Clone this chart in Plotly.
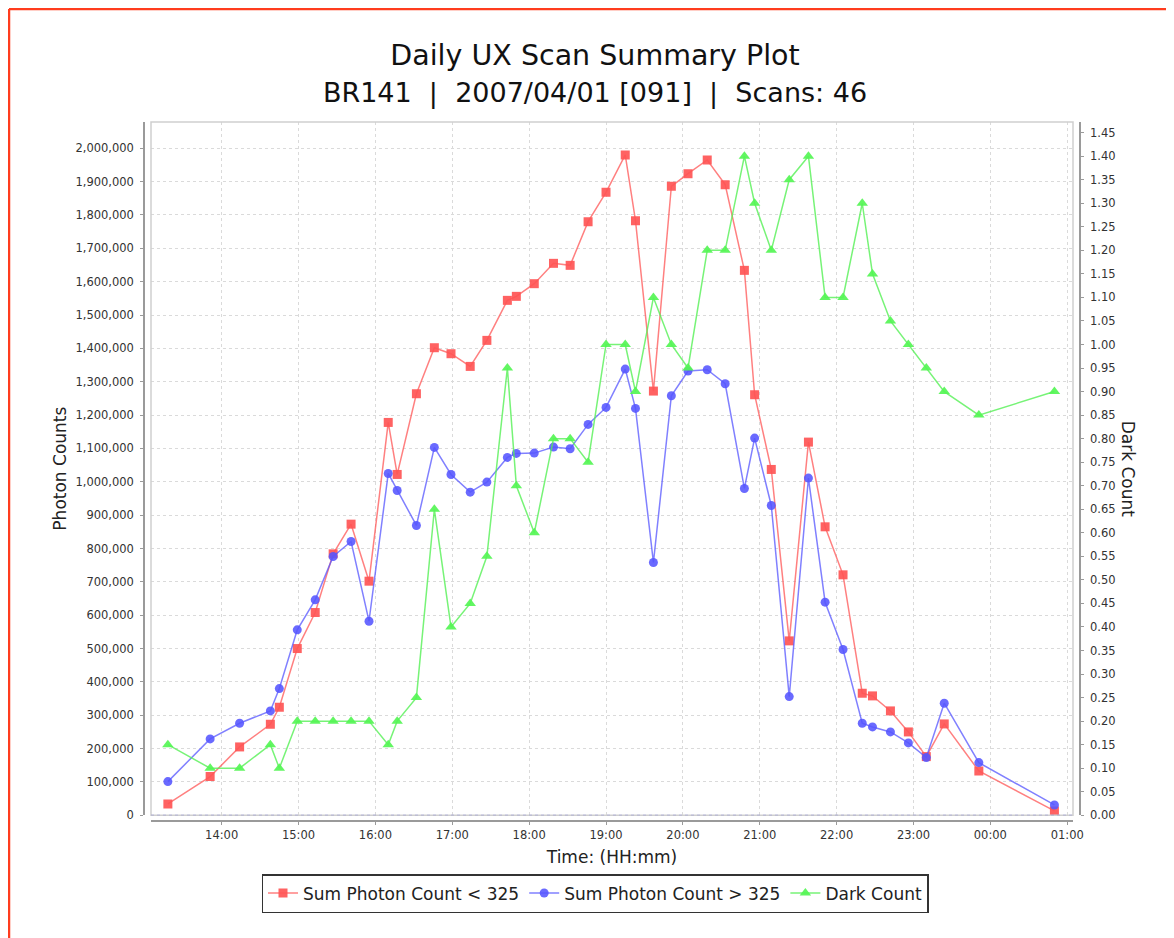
import plotly.graph_objects as go

# ---------------- data ----------------
scan_times = [
    "2007-04-01 13:18", "2007-04-01 13:51", "2007-04-01 14:14", "2007-04-01 14:38",
    "2007-04-01 14:45", "2007-04-01 14:59", "2007-04-01 15:13", "2007-04-01 15:27",
    "2007-04-01 15:41", "2007-04-01 15:55", "2007-04-01 16:10", "2007-04-01 16:17",
    "2007-04-01 16:32", "2007-04-01 16:46", "2007-04-01 16:59", "2007-04-01 17:14",
    "2007-04-01 17:27", "2007-04-01 17:43", "2007-04-01 17:50", "2007-04-01 18:04",
    "2007-04-01 18:19", "2007-04-01 18:32", "2007-04-01 18:46", "2007-04-01 19:00",
    "2007-04-01 19:15", "2007-04-01 19:23", "2007-04-01 19:37", "2007-04-01 19:51",
    "2007-04-01 20:04", "2007-04-01 20:19", "2007-04-01 20:33", "2007-04-01 20:48",
    "2007-04-01 20:56", "2007-04-01 21:09", "2007-04-01 21:23", "2007-04-01 21:38",
    "2007-04-01 21:51", "2007-04-01 22:05", "2007-04-01 22:20", "2007-04-01 22:28",
    "2007-04-01 22:42", "2007-04-01 22:56", "2007-04-01 23:10", "2007-04-01 23:24",
    "2007-04-01 23:51", "2007-04-02 00:50",
]

sum_photon_lt_325 = [
    34000, 116000, 205000, 273000, 324000, 500000, 608000, 784000, 873000, 702000,
    1178000, 1022000, 1264000, 1402000, 1384000, 1346000, 1424000, 1544000, 1556000, 1594000,
    1655000, 1649000, 1780000, 1868000, 1980000, 1783000, 1272000, 1886000, 1924000, 1965000,
    1891000, 1634000, 1261000, 1037000, 523000, 1119000, 865000, 721000, 366000, 358000,
    313000, 250000, 176000, 274000, 133000, 13000,
]

sum_photon_gt_325 = [
    101000, 229000, 276000, 313000, 380000, 556000, 646000, 776000, 821000, 582000,
    1025000, 974000, 869000, 1103000, 1022000, 969000, 999000, 1073000, 1085000, 1086000,
    1104000, 1099000, 1172000, 1223000, 1338000, 1220000, 758000, 1258000, 1332000, 1336000,
    1294000, 980000, 1131000, 929000, 356000, 1011000, 639000, 497000, 276000, 265000,
    250000, 217000, 173000, 336000, 158000, 31000,
]

dark_count = [
    0.15, 0.10, 0.10, 0.15, 0.10, 0.20, 0.20, 0.20, 0.20, 0.20,
    0.15, 0.20, 0.25, 0.65, 0.40, 0.45, 0.55, 0.95, 0.70, 0.60,
    0.80, 0.80, 0.75, 1.00, 1.00, 0.90, 1.10, 1.00, 0.95, 1.20,
    1.20, 1.40, 1.30, 1.20, 1.35, 1.40, 1.10, 1.10, 1.30, 1.15,
    1.05, 1.00, 0.95, 0.90, 0.85, 0.90,
]

series_names = ["Sum Photon Count < 325", "Sum Photon Count > 325", "Dark Count"]
title_line1 = "Daily UX Scan Summary Plot"
title_line2 = "BR141\u00a0\u00a0|\u00a0\u00a02007/04/01 [091]\u00a0\u00a0|\u00a0\u00a0Scans: 46"

# ---------------- figure ----------------
FONT = "DejaVu Sans"
OFF = 8                      # page body margin of the browser
W, H = 1174 - OFF, 938 - OFF
ML = 144 - OFF               # left axis line (page x=144)
MR = W - (1080 - OFF)        # right axis line (page x=1080)
MT = 122 - OFF               # plot top (page y=122)
MB = H - (821 - OFF)         # x axis line (page y=821)
PW, PH = W - ML - MR, H - MT - MB


def px_x(p):
    """page pixel x -> paper fraction"""
    return (p - OFF - ML) / PW


def px_y(p):
    """page pixel y -> paper fraction"""
    return (H - MB - (p - OFF)) / PH


fig = go.Figure()
fig.add_trace(go.Scatter(
    x=scan_times, y=sum_photon_lt_325, name=series_names[0], mode="lines+markers",
    line=dict(color="rgba(255,85,85,0.75)", width=1.5),
    marker=dict(symbol="square", size=9, color="rgba(255,85,85,0.92)"),
    yaxis="y",
))
fig.add_trace(go.Scatter(
    x=scan_times, y=sum_photon_gt_325, name=series_names[1], mode="lines+markers",
    line=dict(color="rgba(85,85,255,0.75)", width=1.5),
    marker=dict(symbol="circle", size=9, color="rgba(85,85,255,0.88)"),
    yaxis="y",
))
fig.add_trace(go.Scatter(
    x=scan_times, y=dark_count, name=series_names[2], mode="lines+markers",
    line=dict(color="rgba(85,240,85,0.8)", width=1.5),
    marker=dict(symbol="triangle-up", size=10, color="rgba(85,245,85,0.92)"),
    yaxis="y2",
))

tickfont = dict(family=FONT, size=11.5, color="#333333")
axis_line = "#9a9a9a"
grid = "#dadada"

fig.update_layout(
    width=W, height=H,
    margin=dict(l=ML, r=MR, t=MT, b=MB, pad=0),
    paper_bgcolor="white", plot_bgcolor="white",
    font=dict(family=FONT, color="#222222"),
    title=dict(
        text=title_line1 + "<br><span style='font-size:27px'>" + title_line2 + "</span>",
        x=(595 - OFF) / W, xanchor="center", xref="container",
        y=1 - 57 / H, yanchor="top", yref="container",
        font=dict(family=FONT, size=28.5, color="#111111"),
    ),
    xaxis=dict(
        type="date",
        range=["2007-04-01 13:04:50", "2007-04-02 01:04:30"],
        domain=[px_x(151), px_x(1073)],
        anchor="free", position=0,
        tick0="2007-04-01 00:00", dtick=3600000, tickformat="%H:%M",
        showline=True, linecolor=axis_line, linewidth=1.5,
        ticks="outside", ticklen=3, tickcolor=axis_line, tickwidth=1,
        showgrid=True, gridcolor=grid, griddash="3px,3px", gridwidth=1,
        zeroline=False, tickfont=tickfont,
        title=dict(text="Time: (HH:mm)", font=dict(family=FONT, size=17, color="#222222"), standoff=10),
    ),
    yaxis=dict(
        range=[0, 2078800],
        domain=[px_y(815.3), 1],
        anchor="free", position=0,
        dtick=100000, tickformat=",d",
        showline=True, linecolor=axis_line, linewidth=1.5,
        ticks="outside", ticklen=3, tickcolor=axis_line,
        showgrid=True, gridcolor=grid, griddash="3px,3px", gridwidth=1,
        zeroline=False, tickfont=tickfont, ticklabelstandoff=4,
        title=dict(text="Photon Counts", font=dict(family=FONT, size=17, color="#222222"), standoff=3),
    ),
    yaxis2=dict(
        range=[0, 1.4726],
        overlaying="y", side="right",
        anchor="free", position=1,
        dtick=0.05, tickformat=".2f",
        showline=True, linecolor=axis_line, linewidth=1.5,
        ticks="outside", ticklen=3, tickcolor=axis_line,
        showgrid=False, zeroline=False, tickfont=tickfont, ticklabelstandoff=4,
    ),
    legend=dict(
        orientation="h",
        x=px_x(595), xanchor="center",
        y=px_y(874), yanchor="top",
        bordercolor="#333333", borderwidth=1.5, bgcolor="white",
        font=dict(family=FONT, size=17, color="#222222"),
        itemwidth=30, tracegroupgap=0,
    ),
    annotations=[
        dict(
            text="Dark Count", textangle=90,
            x=px_x(1128), y=(1 + px_y(815.3)) / 2, xref="paper", yref="paper",
            xanchor="center", yanchor="middle", showarrow=False,
            font=dict(family=FONT, size=17, color="#222222"),
        ),
    ],
    shapes=[
        # plot frame
        dict(type="rect", xref="x domain", yref="y domain", x0=0, x1=1, y0=0, y1=1,
             line=dict(color="#cfcfcf", width=1.5), layer="above"),
        # zero baseline
        dict(type="line", xref="x domain", yref="y", x0=0, x1=1, y0=0, y1=0,
             line=dict(color="rgba(110,110,220,0.8)", width=1, dash="dot"), layer="above"),
        # red page border (top and left)
        dict(type="line", xref="paper", yref="paper",
             x0=px_x(9), x1=px_x(1200), y0=px_y(9), y1=px_y(9),
             line=dict(color="#ff3c1e", width=2.5)),
        dict(type="line", xref="paper", yref="paper",
             x0=px_x(9), x1=px_x(9), y0=px_y(9), y1=px_y(960),
             line=dict(color="#ff3c1e", width=2.5)),
    ],
    showlegend=True,
)

fig.write_html("out.html")
